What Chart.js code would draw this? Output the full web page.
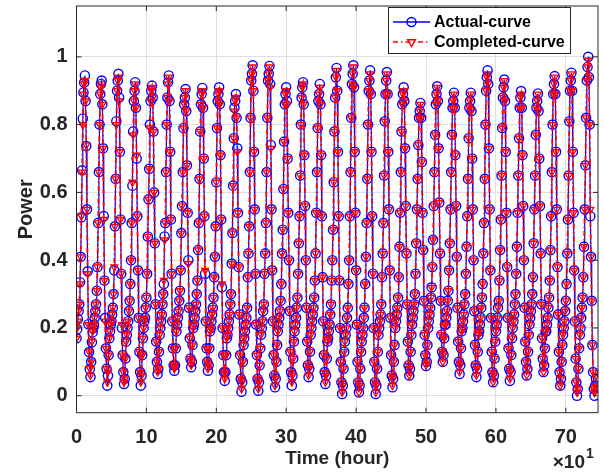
<!DOCTYPE html>
<html>
<head>
<meta charset="utf-8">
<script src="https://cdn.jsdelivr.net/npm/chart.js"></script>
<style>
  body { margin: 0; background: #fff; }
  #wrap { width: 604px; height: 472px; }
</style>
</head>
<body>
<div id="wrap"><canvas id="power" width="604" height="472"></canvas></div>
<script>
// hourly values, one line per day (24 h)
const actualPower = [
  .17,.196,.226,.25,.27,.335,.41,.527,.665,.818,.895,.924,.945,.87,.737,.55,.367,.211,.129,.079,.055,.10,.158,.187,
  .20,.21,.23,.25,.27,.31,.38,.51,.66,.80,.89,.92,.93,.86,.73,.53,.34,.23,.14,.08,.03,.06,.12,.17,
  .19,.21,.22,.24,.26,.30,.37,.50,.64,.81,.90,.93,.95,.88,.72,.52,.36,.20,.12,.07,.035,.05,.11,.16,
  .18,.20,.22,.25,.28,.33,.40,.51,.62,.78,.87,.90,.925,.85,.70,.53,.37,.23,.13,.07,.03,.06,.12,.17,
  .20,.22,.23,.26,.29,.36,.47,.58,.67,.80,.87,.90,.915,.88,.78,.60,.45,.27,.16,.10,.064,.08,.13,.18,
  .20,.22,.24,.27,.30,.33,.47,.51,.66,.80,.88,.925,.945,.87,.72,.52,.36,.22,.14,.09,.074,.09,.14,.19,
  .21,.23,.25,.28,.31,.37,.48,.56,.66,.79,.86,.88,.905,.84,.68,.54,.40,.26,.17,.11,.084,.10,.15,.20,
  .21,.23,.25,.27,.30,.34,.43,.51,.64,.78,.86,.89,.908,.85,.70,.53,.36,.22,.14,.10,.074,.09,.14,.19,
  .20,.22,.24,.26,.29,.35,.41,.50,.63,.79,.87,.89,.91,.86,.71,.52,.32,.20,.12,.07,.044,.07,.12,.17,
  .18,.20,.22,.24,.27,.30,.39,.48,.62,.76,.85,.87,.89,.82,.73,.54,.38,.24,.12,.05,.012,.04,.10,.15,
  .17,.19,.21,.23,.26,.35,.42,.50,.66,.82,.93,.95,.975,.90,.72,.55,.36,.21,.12,.05,.015,.04,.09,.14,
  .18,.20,.22,.25,.27,.36,.42,.51,.66,.82,.93,.95,.973,.92,.74,.55,.37,.22,.12,.06,.025,.05,.10,.15,
  .19,.21,.23,.25,.28,.33,.42,.49,.61,.75,.86,.89,.91,.87,.70,.54,.40,.25,.13,.07,.03,.06,.11,.16,
  .19,.21,.23,.26,.29,.36,.45,.53,.65,.80,.88,.91,.925,.86,.71,.56,.40,.26,.16,.09,.055,.08,.13,.18,
  .20,.22,.24,.26,.29,.34,.42,.54,.66,.79,.87,.89,.92,.86,.71,.53,.35,.22,.12,.07,.035,.06,.11,.16,
  .17,.19,.21,.24,.27,.34,.40,.49,.63,.78,.88,.94,.967,.90,.72,.53,.34,.20,.10,.04,.005,.03,.08,.13,
  .16,.18,.20,.23,.26,.33,.40,.53,.66,.82,.92,.95,.975,.91,.72,.54,.37,.21,.10,.04,.01,.03,.08,.13,
  .16,.18,.20,.23,.26,.33,.41,.51,.64,.80,.90,.93,.96,.89,.72,.53,.36,.20,.10,.04,.005,.03,.08,.13,
  .18,.20,.22,.24,.27,.35,.42,.51,.65,.81,.89,.93,.955,.89,.72,.55,.37,.23,.12,.06,.025,.05,.10,.15,
  .20,.22,.24,.26,.29,.35,.44,.54,.66,.78,.86,.89,.91,.87,.73,.56,.42,.27,.16,.09,.06,.08,.13,.18,
  .21,.23,.25,.27,.30,.36,.45,.55,.64,.74,.82,.84,.864,.82,.69,.54,.43,.28,.18,.12,.088,.10,.15,.20,
  .22,.24,.26,.29,.32,.38,.46,.56,.66,.77,.86,.89,.913,.87,.73,.57,.42,.28,.18,.13,.10,.12,.17,.21,
  .21,.23,.25,.28,.31,.37,.45,.55,.66,.77,.85,.87,.894,.85,.71,.56,.41,.26,.16,.10,.064,.09,.14,.19,
  .20,.22,.24,.27,.30,.36,.44,.53,.64,.76,.85,.87,.894,.84,.70,.55,.40,.25,.15,.09,.055,.08,.13,.18,
  .19,.21,.23,.26,.29,.33,.42,.51,.64,.80,.90,.94,.96,.92,.73,.55,.37,.23,.13,.07,.04,.06,.11,.16,
  .19,.21,.23,.26,.28,.34,.43,.52,.65,.79,.88,.91,.933,.87,.72,.54,.38,.23,.14,.08,.044,.07,.12,.17,
  .20,.22,.24,.27,.30,.36,.44,.54,.65,.76,.85,.88,.899,.85,.71,.56,.40,.26,.16,.10,.06,.08,.13,.18,
  .21,.23,.25,.27,.30,.35,.45,.55,.65,.77,.85,.87,.892,.84,.70,.56,.42,.27,.17,.11,.07,.09,.14,.19,
  .19,.21,.23,.26,.29,.34,.43,.53,.66,.80,.89,.92,.943,.89,.72,.55,.38,.24,.13,.07,.03,.05,.10,.15,
  .18,.20,.22,.25,.28,.33,.42,.52,.65,.81,.90,.93,.953,.90,.72,.54,.37,.22,.11,.04,.0,.02,.08,.14,
  .18,.20,.23,.26,.29,.35,.44,.55,.68,.82,.93,.97,1.0,.94,.80,.53,.41,.28,.15,.07,.02,.0,.03,.05
];

const completedPower = [
  .17,.20,.22,.25,.27,.33,.41,.53,.66,.80,.89,.92,.93,.87,.74,.55,.36,.21,.13,.08,.06,.10,.16,.19,
  .20,.21,.23,.25,.27,.31,.38,.51,.66,.80,.89,.91,.92,.86,.73,.52,.34,.22,.14,.08,.04,.07,.12,.17,
  .19,.21,.22,.24,.26,.30,.38,.50,.64,.80,.90,.93,.94,.87,.72,.52,.36,.21,.12,.07,.04,.05,.11,.16,
  .18,.20,.22,.25,.28,.33,.40,.51,.63,.77,.87,.90,.92,.85,.71,.53,.37,.23,.13,.07,.04,.06,.12,.17,
  .20,.22,.23,.26,.29,.36,.47,.58,.67,.79,.87,.90,.91,.88,.78,.60,.45,.27,.16,.10,.07,.08,.13,.18,
  .20,.22,.24,.27,.30,.34,.46,.51,.66,.80,.88,.92,.94,.87,.72,.52,.36,.22,.14,.09,.08,.09,.14,.19,
  .21,.23,.25,.28,.31,.37,.48,.56,.66,.79,.86,.88,.90,.84,.68,.54,.39,.26,.17,.11,.09,.10,.15,.20,
  .21,.23,.25,.27,.30,.34,.43,.51,.64,.78,.86,.89,.90,.85,.70,.53,.37,.22,.14,.10,.08,.09,.14,.19,
  .20,.22,.24,.26,.29,.35,.41,.50,.63,.79,.87,.89,.90,.86,.71,.52,.33,.20,.12,.07,.05,.07,.12,.17,
  .18,.20,.22,.24,.27,.30,.39,.48,.62,.76,.84,.87,.88,.82,.72,.54,.38,.24,.12,.05,.02,.04,.10,.15,
  .17,.19,.21,.23,.26,.35,.42,.50,.66,.82,.93,.95,.97,.90,.72,.55,.36,.21,.12,.05,.02,.04,.09,.14,
  .18,.20,.22,.25,.27,.36,.42,.51,.66,.82,.93,.95,.97,.91,.73,.55,.37,.22,.12,.06,.03,.05,.10,.15,
  .19,.21,.23,.25,.28,.33,.42,.49,.61,.75,.86,.89,.90,.86,.70,.54,.40,.25,.13,.07,.04,.06,.11,.16,
  .19,.21,.23,.26,.29,.36,.45,.53,.65,.80,.88,.91,.92,.86,.71,.56,.40,.26,.16,.09,.06,.08,.13,.18,
  .20,.22,.24,.26,.29,.34,.42,.54,.66,.79,.87,.89,.91,.86,.71,.53,.35,.22,.12,.07,.04,.06,.11,.16,
  .17,.19,.21,.24,.27,.34,.40,.49,.63,.78,.88,.94,.96,.90,.72,.53,.34,.20,.10,.04,.01,.03,.08,.13,
  .16,.18,.20,.23,.26,.33,.40,.53,.66,.82,.92,.95,.97,.91,.72,.54,.37,.21,.10,.04,.01,.03,.08,.13,
  .16,.18,.20,.23,.26,.33,.41,.51,.64,.80,.90,.93,.95,.89,.72,.53,.36,.20,.10,.04,.01,.03,.08,.13,
  .18,.20,.22,.24,.27,.35,.42,.51,.65,.81,.89,.93,.95,.89,.72,.55,.37,.23,.12,.06,.03,.05,.10,.15,
  .20,.22,.24,.26,.29,.35,.44,.54,.66,.78,.86,.89,.90,.87,.73,.56,.42,.27,.16,.09,.06,.08,.13,.18,
  .21,.23,.25,.27,.30,.36,.45,.55,.64,.74,.82,.84,.86,.82,.69,.54,.43,.28,.18,.12,.09,.10,.15,.20,
  .22,.24,.26,.29,.32,.38,.46,.56,.66,.77,.86,.89,.91,.87,.73,.57,.42,.28,.18,.13,.10,.12,.17,.21,
  .21,.23,.25,.28,.31,.37,.45,.55,.66,.77,.85,.87,.89,.85,.71,.56,.41,.26,.16,.10,.07,.09,.14,.19,
  .20,.22,.24,.27,.30,.36,.44,.53,.64,.76,.85,.87,.89,.84,.70,.55,.40,.25,.15,.09,.06,.08,.13,.18,
  .19,.21,.23,.26,.29,.33,.42,.51,.64,.80,.90,.94,.95,.92,.73,.55,.37,.23,.13,.07,.04,.06,.11,.16,
  .19,.21,.23,.26,.28,.34,.43,.52,.65,.79,.88,.91,.93,.87,.72,.54,.38,.23,.14,.08,.05,.07,.12,.17,
  .20,.22,.24,.27,.30,.36,.44,.54,.65,.76,.85,.88,.89,.85,.71,.56,.40,.26,.16,.10,.06,.08,.13,.18,
  .21,.23,.25,.27,.30,.35,.45,.55,.65,.77,.85,.87,.89,.84,.70,.56,.42,.27,.17,.11,.07,.09,.14,.19,
  .19,.21,.23,.26,.29,.34,.43,.53,.66,.80,.89,.92,.94,.89,.72,.55,.38,.24,.13,.07,.03,.05,.10,.15,
  .18,.20,.22,.25,.28,.33,.42,.52,.65,.81,.90,.93,.95,.90,.72,.54,.37,.22,.11,.04,.01,.02,.08,.14,
  .18,.20,.23,.26,.29,.35,.44,.55,.68,.82,.93,.97,.99,.94,.80,.55,.41,.28,.15,.07,.02,.01,.03,.06
];

const hours = actualPower.map((_, i) => i);
const xTicks = [0, 100, 200, 300, 400, 500, 600, 700];
const yTicks = [0, 0.2, 0.4, 0.6, 0.8, 1];

const FONT = '"Liberation Sans", Arial, sans-serif';
const TXT = '#262626';
const GRID = '#dfdfdf';

// box, inward ticks, exponent and legend in the MATLAB style
const frame = {
  id: 'frame',
  afterDraw(chart) {
    const { ctx, chartArea: a, scales: { x, y } } = chart;
    ctx.save();
    ctx.strokeStyle = TXT;
    ctx.lineWidth = 1;
    ctx.setLineDash([]);
    ctx.strokeRect(a.left, a.top, a.right - a.left, a.bottom - a.top);
    ctx.beginPath();
    xTicks.forEach(v => {
      const px = x.getPixelForValue(v);
      ctx.moveTo(px, a.bottom); ctx.lineTo(px, a.bottom - 5);
      ctx.moveTo(px, a.top); ctx.lineTo(px, a.top + 5);
    });
    yTicks.forEach(v => {
      const py = y.getPixelForValue(v);
      ctx.moveTo(a.left, py); ctx.lineTo(a.left + 5, py);
      ctx.moveTo(a.right, py); ctx.lineTo(a.right - 5, py);
    });
    ctx.stroke();

    // x10^1
    ctx.fillStyle = TXT;
    ctx.textBaseline = 'alphabetic';
    ctx.font = 'bold 19px ' + FONT;
    ctx.textAlign = 'right';
    ctx.fillText('\u00d710', 585, 468);
    ctx.font = 'bold 14px ' + FONT;
    ctx.textAlign = 'left';
    ctx.fillText('1', 586, 458);

    // legend
    const lx = 388.5, ly = 7.5, lw = 182, lh = 46;
    ctx.fillStyle = '#fff';
    ctx.fillRect(lx, ly, lw, lh);
    ctx.strokeStyle = TXT;
    ctx.strokeRect(lx, ly, lw, lh);

    const r1 = 22, r2 = 42;
    ctx.strokeStyle = '#0000ff';
    ctx.lineWidth = 1.4;
    ctx.beginPath(); ctx.moveTo(393, r1); ctx.lineTo(430, r1); ctx.stroke();
    ctx.beginPath(); ctx.arc(411.5, r1, 4.5, 0, Math.PI * 2); ctx.stroke();

    ctx.strokeStyle = '#ff0000';
    ctx.setLineDash([5, 3, 1.5, 3]);
    ctx.beginPath(); ctx.moveTo(393, r2); ctx.lineTo(430, r2); ctx.stroke();
    ctx.setLineDash([]);
    const tr = 4.5;
    ctx.beginPath();
    ctx.moveTo(411.5, r2 + tr);
    ctx.lineTo(411.5 - tr * 0.866, r2 - tr / 2);
    ctx.lineTo(411.5 + tr * 0.866, r2 - tr / 2);
    ctx.closePath(); ctx.stroke();

    ctx.fillStyle = '#000';
    ctx.font = 'bold 16px ' + FONT;
    ctx.textBaseline = 'middle';
    ctx.fillText('Actual-curve', 434, r1 + 1);
    ctx.fillText('Completed-curve', 434, r2 + 1);
    ctx.restore();
  }
};

new Chart(document.getElementById('power'), {
  type: 'line',
  data: {
    datasets: [
      {
        label: 'Completed-curve',
        data: completedPower.map((v, i) => ({ x: hours[i], y: v })),
        borderColor: '#ff0000',
        borderWidth: 1.8,
        borderDash: [5, 3, 1.5, 3],
        pointStyle: 'triangle',
        pointRotation: 180,
        pointRadius: 4,
        pointBorderWidth: 1.3,
        pointBorderColor: '#ff0000',
        pointBackgroundColor: 'rgba(0,0,0,0)',
        tension: 0
      },
      {
        label: 'Actual-curve',
        data: actualPower.map((v, i) => ({ x: hours[i], y: v })),
        borderColor: '#0000ff',
        borderWidth: 1.2,
        pointStyle: 'circle',
        pointRadius: 4.6,
        pointBorderWidth: 1.4,
        pointBorderColor: '#0000ff',
        pointBackgroundColor: 'rgba(0,0,0,0)',
        tension: 0
      }
    ]
  },
  options: {
    responsive: false,
    animation: false,
    events: [],
    layout: { padding: { left: 0, top: 6, right: 3.3, bottom: 0 } },
    plugins: { legend: { display: false }, tooltip: { enabled: false } },
    scales: {
      x: {
        type: 'linear',
        min: 0,
        max: 746,
        afterBuildTicks: s => { s.ticks = xTicks.map(v => ({ value: v })); },
        afterFit: s => { s.height = 59.3; s.paddingLeft = 0; s.paddingRight = 0; },
        grid: { color: GRID, drawTicks: false },
        border: { display: false },
        ticks: {
          autoSkip: false,
          maxRotation: 0,
          padding: 13,
          color: TXT,
          font: { family: FONT, size: 20, weight: 'bold' },
          callback: v => String(v / 10)
        },
        title: {
          display: true,
          text: 'Time (hour)',
          color: TXT,
          font: { family: FONT, size: 19, weight: 'bold' },
          padding: { top: 0, bottom: 2 }
        }
      },
      y: {
        min: -0.05,
        max: 1.15,
        afterBuildTicks: s => { s.ticks = yTicks.map(v => ({ value: v })); },
        afterFit: s => { s.width = 76.5; s.paddingTop = 0; s.paddingBottom = 0; },
        grid: { color: GRID, drawTicks: false },
        border: { display: false },
        ticks: {
          padding: 9,
          color: TXT,
          font: { family: FONT, size: 20, weight: 'bold' },
          callback: v => String(v)
        },
        title: {
          display: true,
          text: 'Power',
          color: TXT,
          font: { family: FONT, size: 20, weight: 'bold' },
          padding: { top: 14, bottom: 0 }
        }
      }
    }
  },
  plugins: [frame]
});
</script>
</body>
</html>
